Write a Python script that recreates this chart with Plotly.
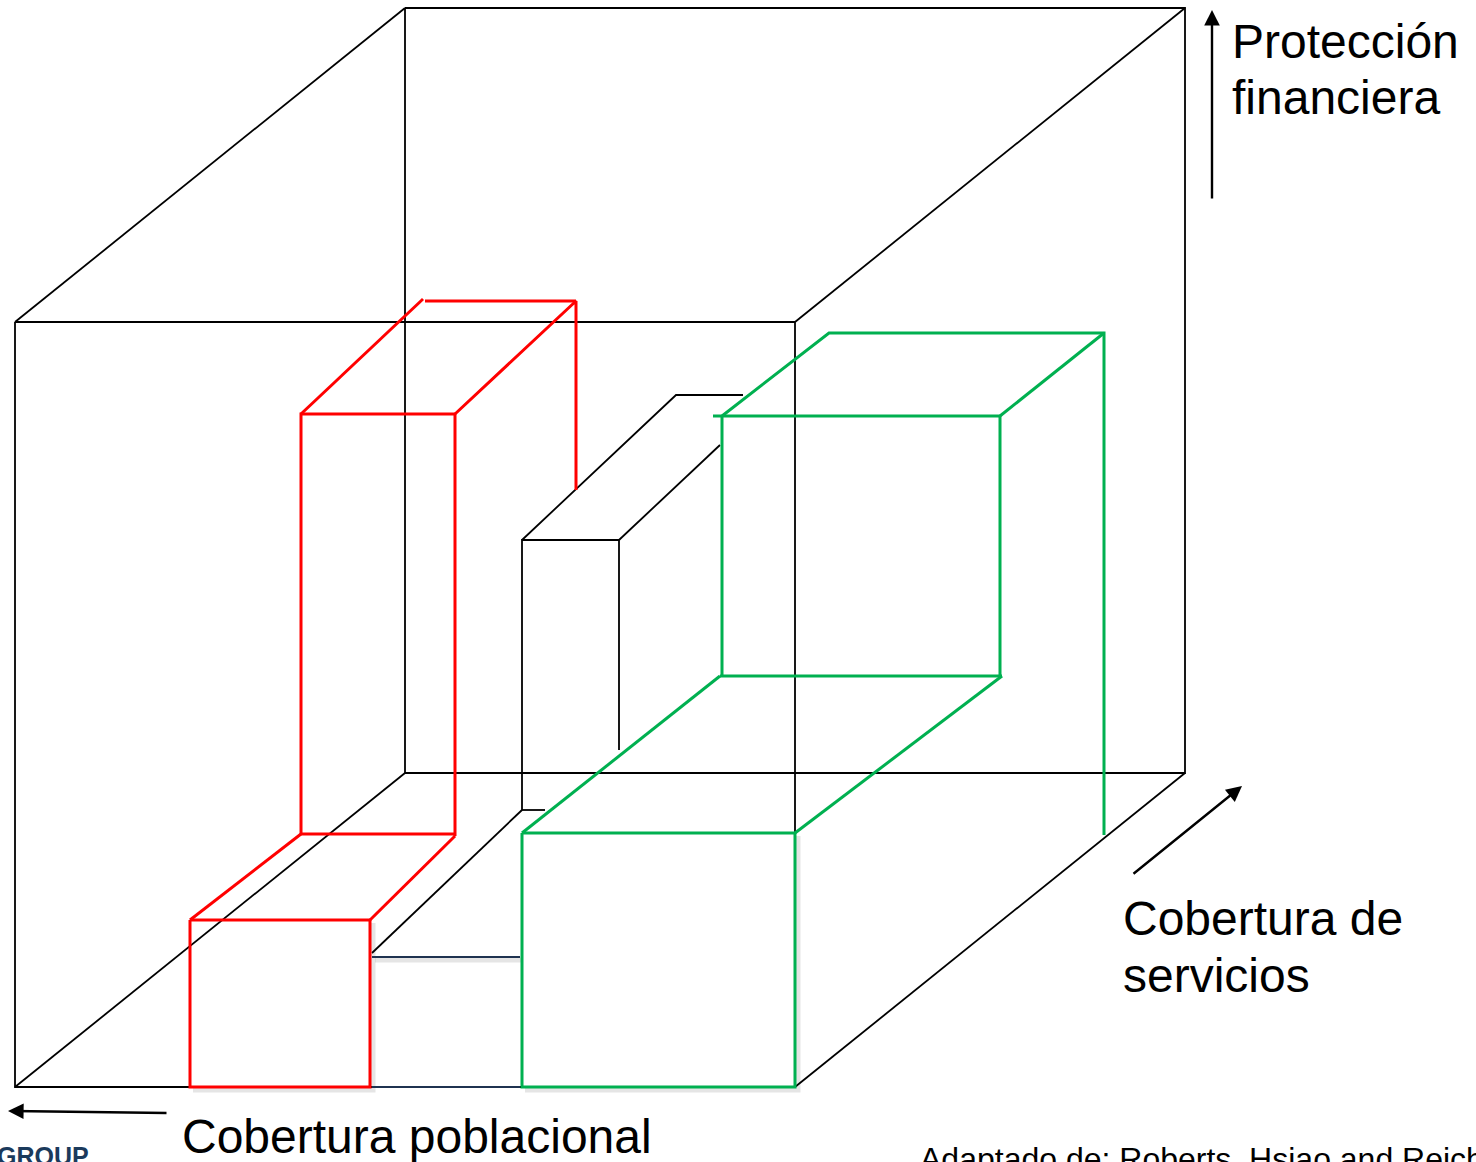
import plotly.graph_objects as go

W, H = 1476, 1162

# Outer cube edges (pixel-space coordinates of the diagram), None separates segments
cube_x = [15, 795, 795, 15, 15, None, 405, 1185, 1185, 405, 405, None,
          15, 405, None, 795, 1185, None, 795, 1185, None, 15, 405]
cube_y = [322, 322, 1087, 1087, 322, None, 8, 8, 773, 773, 8, None,
          322, 8, None, 322, 8, None, 1087, 773, None, 1087, 773]

# Red box (low service coverage, high financial protection)
red_x = [190, 370, 370, 190, 190, None, 190, 301, None, 370, 455, None,
         301, 455, None, 301, 301, 455, 455, None, 301, 423, None,
         425, 576, None, 455, 576, 576]
red_y = [920, 920, 1087, 1087, 920, None, 920, 834, None, 920, 836, None,
         834, 834, None, 834, 414, 414, 836, None, 414, 299, None,
         301, 301, None, 414, 301, 490]

# Black middle box
mid_x = [522, 522, 619, 619, None, 522, 676, 743, None, 619, 720, None,
         522, 545, None, 522, 372]
mid_y = [810, 540, 540, 750, None, 540, 395, 395, None, 540, 445, None,
         810, 810, None, 810, 953]

# Navy connecting lines between red and green boxes
navy_x = [372, 520, None, 372, 520]
navy_y = [957, 957, None, 1087, 1087]

# Green box
green_x = [522, 795, 795, 522, 522, None, 522, 720, None, 795, 1002, None,
           720, 1002, None, 722, 722, None, 1000, 1000, None, 713, 1000, None,
           722, 829, 1104, 1104, None, 1000, 1104]
green_y = [833, 833, 1087, 1087, 833, None, 833, 676, None, 833, 676, None,
           676, 676, None, 416, 676, None, 416, 676, None, 416, 416, None,
           416, 333, 333, 835, None, 416, 333]

# Soft drop shadow under the front faces
shadow_x = [373, 373, 193, None, 798, 798, 525, None, 375, 523]
shadow_y = [923, 1090, 1090, None, 836, 1090, 1090, None, 960, 960]

# Axis labels: (text, x, y) for each line
label_lines = [("Protección", 1230, 41), ("financiera", 1230, 97),
               ("Cobertura de", 1121, 918), ("servicios", 1121, 975),
               ("Cobertura poblacional", 180, 1136)]
source = "Adaptado de: Roberts, Hsiao and Reich"
logo = "GROUP"

fig = go.Figure()
fig.add_trace(go.Scatter(x=shadow_x, y=shadow_y, mode="lines",
                         line=dict(color="rgba(0,0,0,0.10)", width=5), hoverinfo="skip"))
fig.add_trace(go.Scatter(x=cube_x, y=cube_y, mode="lines",
                         line=dict(color="black", width=1.8), hoverinfo="skip"))
fig.add_trace(go.Scatter(x=mid_x, y=mid_y, mode="lines",
                         line=dict(color="black", width=1.8), hoverinfo="skip"))
fig.add_trace(go.Scatter(x=navy_x, y=navy_y, mode="lines",
                         line=dict(color="#1F3350", width=2), hoverinfo="skip"))
fig.add_trace(go.Scatter(x=red_x, y=red_y, mode="lines",
                         line=dict(color="#FF0000", width=3), hoverinfo="skip"))
fig.add_trace(go.Scatter(x=green_x, y=green_y, mode="lines",
                         line=dict(color="#00B050", width=3), hoverinfo="skip"))

font = dict(family="Liberation Sans, Arial, sans-serif", size=48, color="black")

# Arrows
for (x0, y0, x1, y1) in [(1212, 200, 1212, 10), (1132, 875, 1242, 786), (168, 1113, 8, 1111)]:
    fig.add_annotation(x=x1, y=y1, ax=x0, ay=y0, xref="x", yref="y", axref="x", ayref="y",
                       showarrow=True, arrowhead=2, arrowsize=1.3, arrowwidth=2.4,
                       arrowcolor="black", text="")

for (txt, lx, ly) in label_lines:
    fig.add_annotation(x=lx, y=ly, xref="x", yref="y", text=txt, showarrow=False,
                       xanchor="left", yanchor="middle", align="left", font=font)

fig.add_annotation(x=918, y=1159, xref="x", yref="y", text=source, showarrow=False,
                   xanchor="left", yanchor="middle", align="left",
                   font=dict(family="Liberation Sans, Arial, sans-serif", size=32, color="black"))
fig.add_annotation(x=0, y=1156, xshift=-5, xref="x", yref="y", text="<b>" + logo + "</b>",
                   showarrow=False, xanchor="left", yanchor="middle", align="left",
                   font=dict(family="Liberation Sans, Arial, sans-serif", size=25, color="#1B3A5C"))

fig.update_layout(
    width=W, height=H,
    margin=dict(l=0, r=0, t=0, b=0),
    paper_bgcolor="white", plot_bgcolor="white",
    showlegend=False,
    xaxis=dict(range=[0, W], visible=False, fixedrange=True),
    yaxis=dict(range=[H, 0], visible=False, fixedrange=True),
)

fig.write_html(
    "out.html",
    config={"displayModeBar": False},
    post_script="document.body.style.margin='0';document.body.style.overflow='hidden';",
)
